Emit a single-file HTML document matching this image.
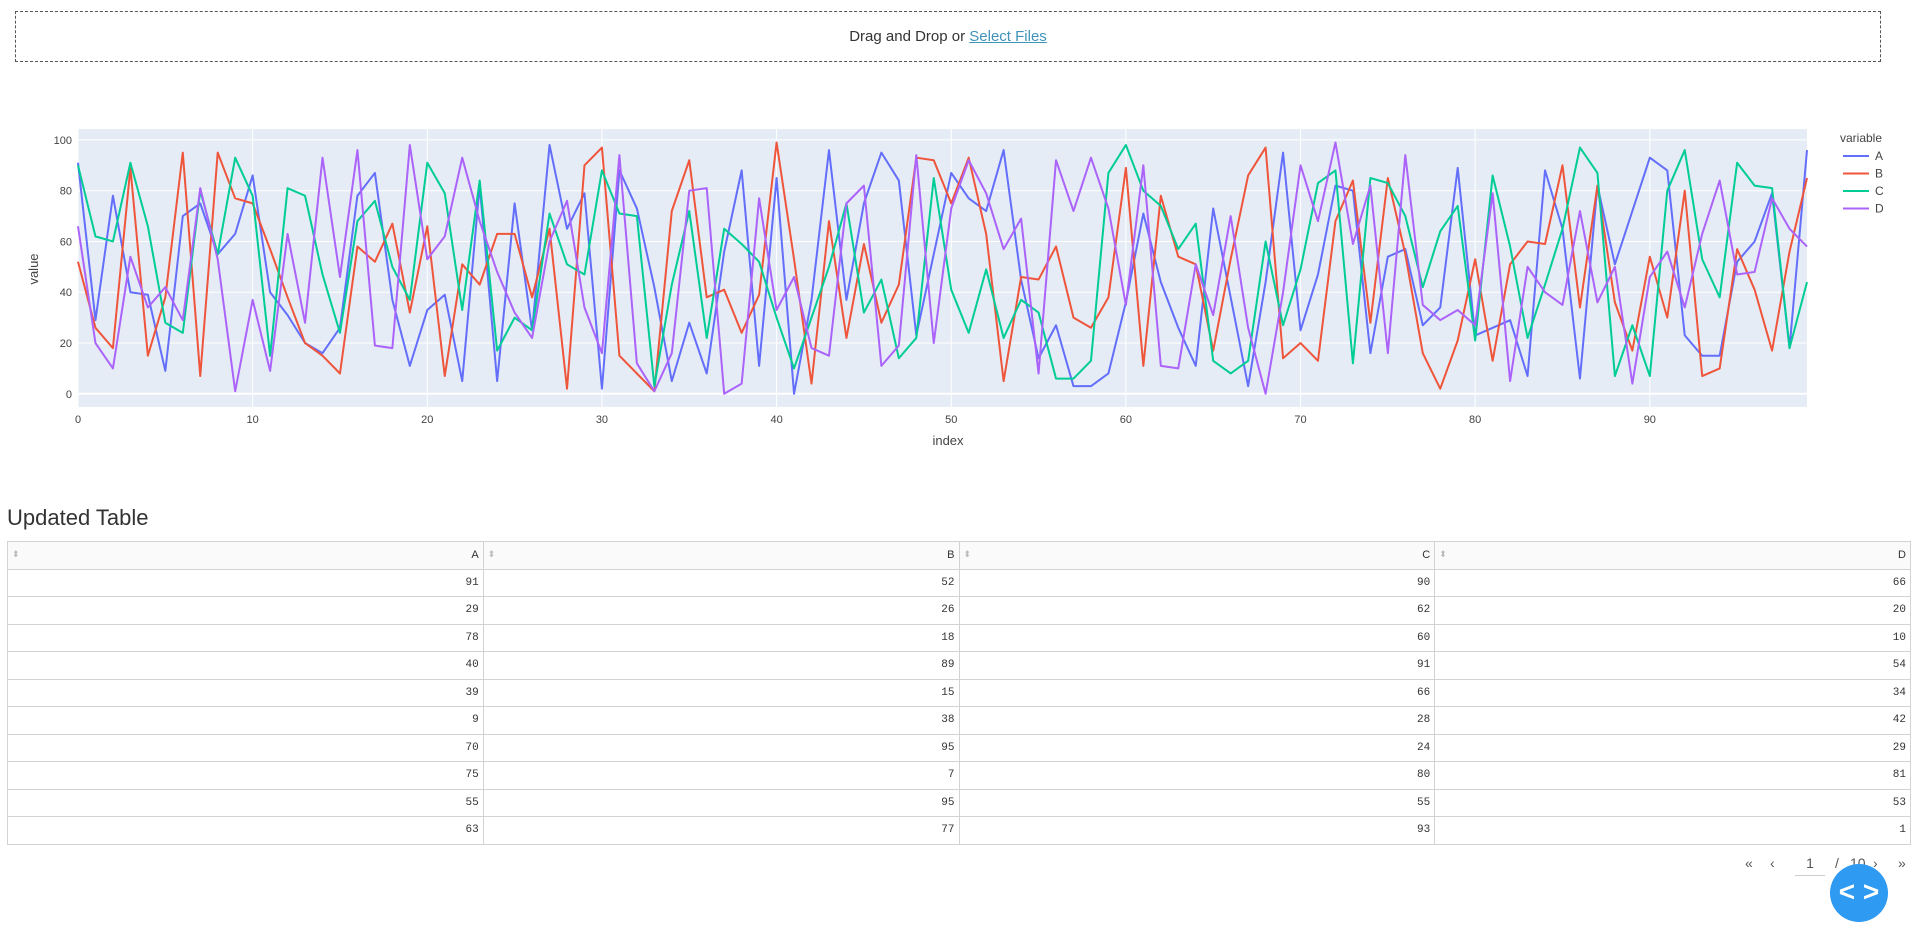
<!DOCTYPE html>
<html><head><meta charset="utf-8">
<style>
body{margin:0;width:1918px;height:931px;background:#fff;font-family:"Liberation Sans",sans-serif;position:relative;overflow:hidden;color:#444}
#upload{position:absolute;left:15px;top:11px;width:1866px;height:51px;border:1px dashed #555;box-sizing:border-box;text-align:center;line-height:50px;font-size:15px;color:#333}
#upload a{color:#3f93b9;text-decoration:underline}
#chart{position:absolute;left:0;top:100px}
h3{position:absolute;left:7px;top:505px;margin:0;font-weight:normal;font-size:22px;color:#333}
table{position:absolute;left:7px;top:541px;width:1904px;border-collapse:collapse;font-family:"Liberation Mono",monospace;font-size:11px;color:#333}
td,th{border:1px solid #d3d3d3;height:26.5px;padding:0 4px;text-align:right;font-weight:normal;width:25%}
th{background:#fafafa;font-family:"Liberation Sans",sans-serif;font-size:11px}
th span{float:left;color:#bbb;font-size:9px}
#pager{position:absolute;left:1745px;top:855px;font-size:14px;color:#555}
#pager span{position:absolute;top:0;white-space:nowrap}
#fab{position:absolute;left:1830px;top:864px;width:58px;height:58px;border-radius:50%;background:#2f9af2;color:#fff;font-size:28px;text-align:center;line-height:56px;font-weight:bold}
</style></head><body>
<div id="upload">Drag and Drop or <a>Select Files</a></div>
<svg id="chart" width="1918" height="360"></svg>
<h3>Updated Table</h3>
<table id="tbl"></table>
<div id="pager">
<span style="left:0">«</span>
<span style="left:25px">‹</span>
<span style="left:50px;width:30px;text-align:center;border-bottom:1px solid #ccc;padding-bottom:4px">1</span>
<span style="left:90px">/</span>
<span style="left:105px">10</span>
<span style="left:128px">›</span>
<span style="left:153px">»</span>
</div>
<div id="fab">&lt; &gt;</div>
<script>
const seriesNames=["A","B","C","D"];
const colors=["#636efa","#EF553B","#00cc96","#ab63fa"];
const yTicks=[0,20,40,60,80,100];
const xTicks=[0,10,20,30,40,50,60,70,80,90];
const A=[91,29,78,40,39,9,70,75,55,63,86,40,31,20,16,26,78,87,37,11,33,39,5,82,5,75,25,98,65,79,2,88,73,42,5,28,8,56,88,11,85,0,37,96,37,75,95,84,23,55,87,77,72,96,45,14,27,3,3,8,36,71,44,26,11,73,38,3,44,95,25,47,82,80,16,54,57,27,34,89,23,26,29,7,88,65,6,82,51,72,93,88,23,15,15,52,60,79,18,96];
const B=[52,26,18,89,15,38,95,7,95,77,75,57,38,20,15,8,58,52,67,32,66,7,51,43,63,63,38,65,2,90,97,15,8,1,72,92,38,41,24,39,99,53,4,68,22,59,28,43,93,92,75,93,63,5,46,45,58,30,26,38,89,11,78,54,51,17,53,86,97,14,20,13,68,84,28,85,55,16,2,21,53,13,51,60,59,90,34,82,36,17,54,30,80,7,10,57,41,17,56,85];
const C=[90,62,60,91,66,28,24,80,55,93,78,15,81,78,47,24,68,76,50,37,91,79,33,84,17,30,25,71,51,47,88,71,70,3,43,72,22,65,59,52,30,10,30,50,75,32,45,14,22,85,41,24,49,22,37,32,6,6,13,87,98,80,74,57,67,13,8,13,60,27,49,83,88,12,85,83,70,42,64,74,21,86,58,22,43,65,97,87,7,27,7,80,96,53,38,91,82,81,18,44];
const D=[66,20,10,54,34,42,29,81,53,1,37,9,63,28,93,46,96,19,18,98,53,62,93,68,48,32,22,60,76,34,16,94,12,1,16,80,81,0,4,77,33,46,18,15,75,82,11,19,94,20,73,92,79,57,69,8,92,72,93,73,35,90,11,10,51,31,70,26,0,40,90,68,99,59,82,16,94,35,29,33,27,79,5,50,40,35,72,36,50,4,46,56,34,63,84,47,48,77,65,58];
const data=[A,B,C,D];
const NS="http://www.w3.org/2000/svg";
const svg=document.getElementById('chart');
const L=78,R=1807,T=29,Bt=307,ymin=-5.2,ymax=104.3;
const xs=i=>L+(R-L)*i/99, ys=v=>Bt-(Bt-T)*(v-ymin)/(ymax-ymin);
function mk(t,a,p){const e=document.createElementNS(NS,t);for(const k in a)e.setAttribute(k,a[k]);(p||svg).appendChild(e);return e;}
const bg=mk('rect',{x:L,y:T,width:R-L,height:Bt-T,fill:'#e5ecf6'});


yTicks.forEach(v=>{const g=mk('line',{x1:L,x2:R,y1:ys(v),y2:ys(v),stroke:'#fff','stroke-width':v===0?2:1});


const t=mk('text',{x:L-6,y:ys(v)+4,'text-anchor':'end','font-size':11,fill:'#444'});t.textContent=v;

});
xTicks.forEach(v=>{const g=mk('line',{x1:xs(v),x2:xs(v),y1:T,y2:Bt,stroke:'#fff','stroke-width':1});


const t=mk('text',{x:xs(v),y:Bt+16,'text-anchor':'middle','font-size':11,fill:'#444'});t.textContent=v;

});
data.forEach((s,k)=>{const p=mk('polyline',{points:s.map((v,i)=>xs(i)+','+ys(v)).join(' '),fill:'none',stroke:colors[k],'stroke-width':2,'stroke-linejoin':'round'});

});
let t=mk('text',{x:948,y:345,'text-anchor':'middle','font-size':13,fill:'#444'});t.textContent='index';


t=mk('text',{x:38,y:169,'text-anchor':'middle','font-size':13,fill:'#444',transform:'rotate(-90 38 169)'});t.textContent='value';


t=mk('text',{x:1840,y:42,'font-size':12,fill:'#444'});t.textContent='variable';


seriesNames.forEach((n,k)=>{const y=56+k*17.5;
const g=mk('g',{});


mk('line',{x1:1843,x2:1869,y1:y,y2:y,stroke:colors[k],'stroke-width':2},g);
const tt=mk('text',{x:1875,y:y+4,'font-size':12,fill:'#444'},g);tt.textContent=n;});
const tbl=document.getElementById('tbl');
let h='<tr>'+seriesNames.map(n=>'<th><span>⬍</span>'+n+'</th>').join('')+'</tr>';
for(let i=0;i<10;i++)h+='<tr>'+data.map(s=>'<td>'+s[i]+'</td>').join('')+'</tr>';
tbl.innerHTML=h;
</script>
</body></html>
